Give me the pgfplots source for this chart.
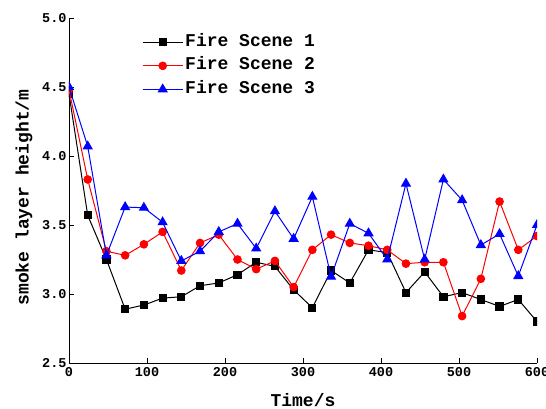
\documentclass[border=0pt]{standalone}
\usepackage{pgfplots}
\pgfplotsset{compat=1.18}
\usepackage{fontspec}
\setmainfont{Liberation Mono}
\pgfplotstableread{
t s1 s2 s3
0 4.45 4.48 4.50
24 3.57 3.83 4.07
48 3.25 3.31 3.28
72 2.89 3.28 3.63
96 2.92 3.36 3.625
120 2.97 3.45 3.52
144 2.98 3.17 3.24
168 3.06 3.37 3.31
192 3.08 3.43 3.45
216 3.14 3.25 3.51
240 3.23 3.18 3.33
264 3.20 3.24 3.60
288 3.03 3.05 3.40
312 2.90 3.32 3.705
336 3.17 3.43 3.125
360 3.08 3.37 3.51
384 3.32 3.35 3.44
408 3.30 3.32 3.25
432 3.01 3.22 3.80
456 3.16 3.23 3.25
480 2.98 3.23 3.83
504 3.01 2.84 3.68
528 2.96 3.11 3.355
552 2.91 3.67 3.435
576 2.96 3.32 3.13
600 2.80 3.42 3.50
}\datatable
\usepackage{pgfplotstable}
\begin{document}
\begin{tikzpicture}
\useasboundingbox (-69pt,-46pt) rectangle (477pt,345pt+18pt);
\begin{axis}[
 at={(0pt,0pt)}, anchor=south west,
 width=468pt, height=345pt, scale only axis,
 xmin=0, xmax=600, ymin=2.5, ymax=5.0,
 axis lines*=left,
 axis line style={line width=0.8pt},
 xtick={0,100,...,600}, ytick={2.5,3.0,3.5,4.0,4.5,5.0},
 tick align=inside, major tick length=5pt,
 tick style={black, line width=0.8pt},
 minor tick num=0,
 /pgf/number format/assume math mode=true,
 yticklabel style={/pgf/number format/fixed,/pgf/number format/precision=1,/pgf/number format/fixed zerofill, xshift=1pt},
 xticklabel style={yshift=-1pt},
 ticklabel style={font=\fontsize{13.5}{13.5}\selectfont\bfseries},
 xlabel={Time/s}, ylabel={smoke layer height/m},
 every axis x label/.style={at={(axis description cs:0.5,0)}, yshift=-37pt, anchor=center, font=\fontsize{18}{18}\selectfont\bfseries},
 every axis y label/.style={at={(axis description cs:0,0.48)}, xshift=-45pt, anchor=center, rotate=90, font=\fontsize{18}{18}\selectfont\bfseries},
 clip marker paths=true,
 legend cell align=left,
 legend image code/.code={\draw[mark repeat=2,mark phase=2,#1] plot coordinates {(0pt,0pt)(20pt,0pt)(40pt,0pt)};},
 legend style={draw=none, fill=none, at={(axis description cs:0.156,0.959)}, anchor=north west,
   font=\fontsize{18}{18}\selectfont\bfseries, inner sep=0pt, row sep=3.5pt,
   nodes={inner sep=2pt, text height=12pt, text depth=4pt}},
]
\addplot[black, line width=1pt, mark=square*, mark size=3.6pt, mark options={solid}] table[x=t,y=s1] {\datatable};
\addlegendentry{Fire Scene 1}
\addplot[red, line width=1pt, mark=*, mark size=3.8pt, mark options={solid}] table[x=t,y=s2] {\datatable};
\addlegendentry{Fire Scene 2}
\addplot[blue, line width=1pt, mark=triangle*, mark size=5pt, mark options={solid}] table[x=t,y=s3] {\datatable};
\addlegendentry{Fire Scene 3}
\end{axis}
\end{tikzpicture}
\end{document}
